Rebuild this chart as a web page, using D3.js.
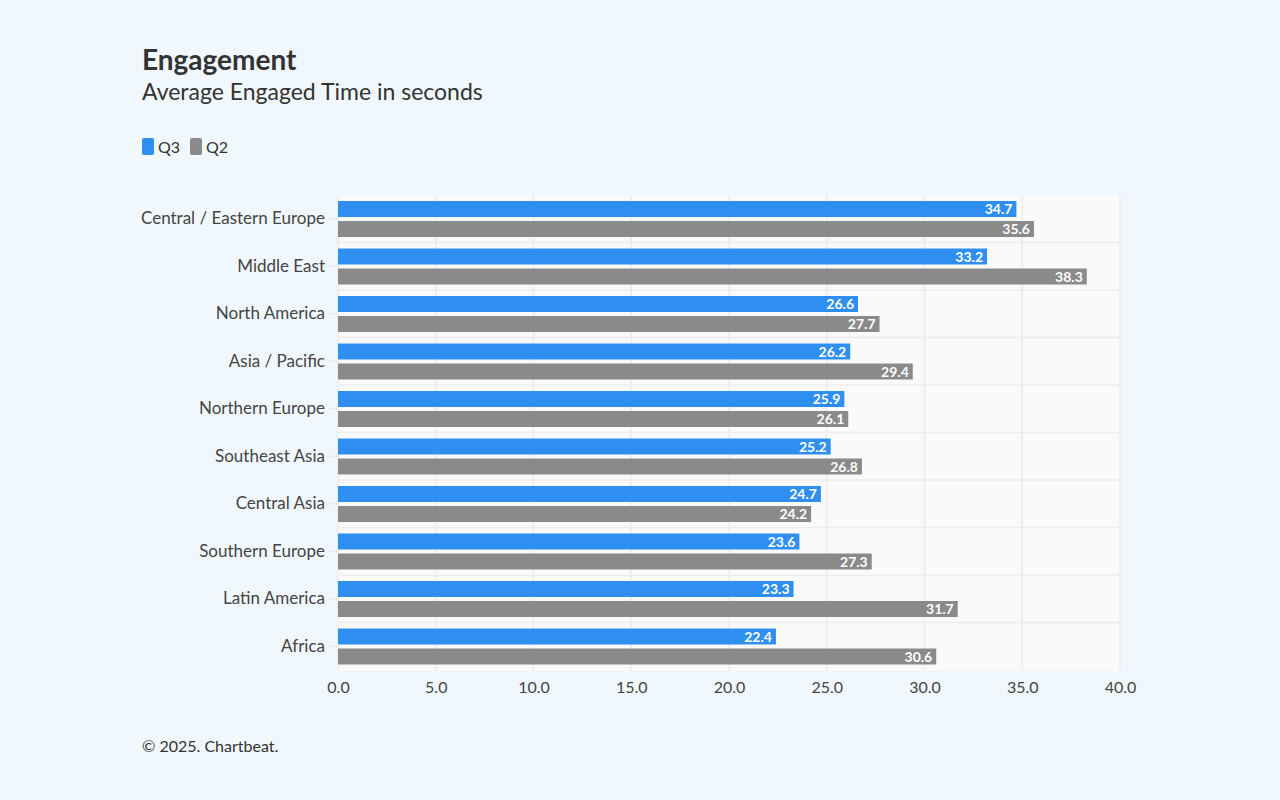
<!DOCTYPE html>
<html lang="en">
<head>
<meta charset="UTF-8">
<title>Engagement</title>
<script src="https://cdn.jsdelivr.net/npm/d3@7"></script>
<style>
  body { margin: 0; background: #f1f8fd; font-family: "Lato", sans-serif; }
</style>
</head>
<body>
<div id="chart"></div>
<script>
  var data = [
    { region: "Central / Eastern Europe", q3: 34.7, q2: 35.6 },
    { region: "Middle East", q3: 33.2, q2: 38.3 },
    { region: "North America", q3: 26.6, q2: 27.7 },
    { region: "Asia / Pacific", q3: 26.2, q2: 29.4 },
    { region: "Northern Europe", q3: 25.9, q2: 26.1 },
    { region: "Southeast Asia", q3: 25.2, q2: 26.8 },
    { region: "Central Asia", q3: 24.7, q2: 24.2 },
    { region: "Southern Europe", q3: 23.6, q2: 27.3 },
    { region: "Latin America", q3: 23.3, q2: 31.7 },
    { region: "Africa", q3: 22.4, q2: 30.6 }
  ];
  var series = [{ key: "q3", name: "Q3", color: "#2f8ff0" }, { key: "q2", name: "Q2", color: "#8a8a8a" }];

  var margin = { top: 195, right: 160, bottom: 130, left: 338 },
      width = 1280 - margin.left - margin.right,
      height = 800 - margin.top - margin.bottom;

  var svg = d3.select("#chart").append("svg").attr("width", 1280).attr("height", 800);

  svg.append("text").attr("x", 142).attr("y", 70).style("font-size", "28px").style("font-weight", "bold").attr("fill", "#333").text("Engagement");
  svg.append("text").attr("x", 142).attr("y", 100).style("font-size", "23px").attr("fill", "#333").text("Average Engaged Time in seconds");

  // legend
  var lx = 142;
  series.forEach(function (s) {
    svg.append("rect").attr("x", lx).attr("y", 138).attr("width", 12).attr("height", 17).attr("rx", 2).attr("fill", s.color);
    svg.append("text").attr("x", lx + 16).attr("y", 153).style("font-size", "16px").attr("fill", "#333").text(s.name);
    lx += 48;
  });

  svg.append("text").attr("x", 142).attr("y", 752).style("font-size", "16px").attr("fill", "#333").text("\u00a9 2025. Chartbeat.");

  var g = svg.append("g").attr("transform", "translate(" + margin.left + "," + margin.top + ")");

  var x = d3.scaleLinear().domain([0, 40]).range([0, width]);
  var y = d3.scaleBand().domain(data.map(function (d) { return d.region; })).range([0, height]);
  var y1 = d3.scaleBand().domain(series.map(function (s) { return s.key; })).range([6, 42]).paddingInner(0.2);

  g.append("rect").attr("width", width).attr("height", height).attr("fill", "#fafafa");

  // grid
  g.selectAll(".vgrid").data(x.ticks(8)).enter().append("line")
    .attr("x1", x).attr("x2", x).attr("y1", 0).attr("y2", height)
    .attr("stroke", "#ececec").attr("stroke-width", 1.5);
  g.selectAll(".hgrid").data(d3.range(1, data.length)).enter().append("line")
    .attr("x1", 0).attr("x2", width)
    .attr("y1", function (i) { return i * y.step(); }).attr("y2", function (i) { return i * y.step(); })
    .attr("stroke", "#ececec").attr("stroke-width", 1.5);

  var groups = g.selectAll(".grp").data(data).enter().append("g")
    .attr("transform", function (d) { return "translate(0," + y(d.region) + ")"; });

  series.forEach(function (s) {
    groups.append("rect")
      .attr("x", 0).attr("y", y1(s.key))
      .attr("width", function (d) { return x(d[s.key]); })
      .attr("height", y1.bandwidth())
      .attr("fill", s.color);
    groups.append("text")
      .attr("x", function (d) { return x(d[s.key]) - 4; })
      .attr("y", y1(s.key) + y1.bandwidth() / 2)
      .attr("dy", "0.36em").attr("text-anchor", "end")
      .style("font-size", "14px").style("font-weight", "bold").attr("fill", "#fff")
      .text(function (d) { return d[s.key].toFixed(1); });
  });

  // y axis labels
  g.append("g").call(d3.axisLeft(y).tickSize(8).tickPadding(5))
    .call(function (a) { a.select(".domain").remove(); })
    .call(function (a) { a.selectAll("line").attr("stroke", "#e4e4e4"); a.selectAll("text").style("font-size", "17px").style("font-family", "Lato").attr("fill", "#444"); });

  // x axis
  g.append("g").attr("transform", "translate(0," + height + ")")
    .call(d3.axisBottom(x).ticks(8).tickFormat(d3.format(".1f")).tickSize(0).tickPadding(12))
    .call(function (a) { a.select(".domain").remove(); })
    .call(function (a) { a.selectAll("text").style("font-size", "16px").style("font-family", "Lato").attr("fill", "#444"); });
</script>
</body>
</html>
